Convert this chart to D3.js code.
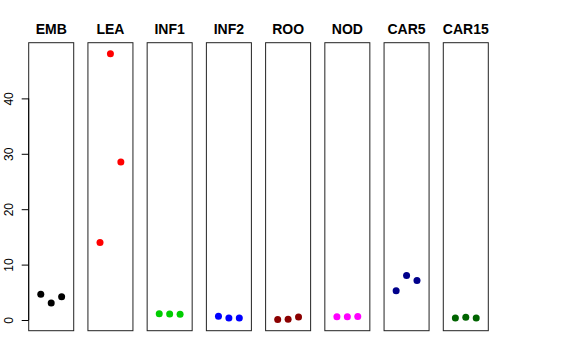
<!DOCTYPE html>
<html><head><meta charset="utf-8">
<script src="https://cdn.jsdelivr.net/npm/d3@7"></script>
<style>body{margin:0;background:#fff}</style>
</head><body>
<svg id="c" width="576" height="360"></svg>
<script>
const categories = ["EMB","LEA","INF1","INF2","ROO","NOD","CAR5","CAR15"];
const colors = ["#000000","#FF0000","#00CD00","#0000FF","#8B0000","#FF00FF","#00008B","#006400"];
const EMB = [4.65, 3.05, 4.2];
const LEA = [14.0, 48.05, 28.5];
const INF1 = [1.12, 1.08, 1.05];
const INF2 = [0.68, 0.38, 0.38];
const ROO = [0.08, 0.14, 0.55];
const NOD = [0.6, 0.6, 0.65];
const CAR5 = [5.3, 8.05, 7.15];
const CAR15 = [0.38, 0.52, 0.38];
const series = [EMB, LEA, INF1, INF2, ROO, NOD, CAR5, CAR15];
const yTicks = [0, 10, 20, 30, 40];
const reps = [1, 2, 3];

const svg = d3.select("#c");
const panelX = d3.scaleBand().domain(categories).range([28.7, 488.3]).paddingInner(0.24).paddingOuter(0);
const y = d3.scaleLinear().domain([-1.93, 50.05]).range([330.7, 42.7]);
const xIn = d3.scaleLinear().domain([-0.16, 4.16]).range([0, panelX.bandwidth()]);

categories.forEach((cat, i) => {
  const g = svg.append("g").attr("transform", `translate(${panelX(cat)},0)`);
  g.append("rect").attr("x", 0).attr("y", y(50.05)).attr("width", panelX.bandwidth())
    .attr("height", y(-1.93) - y(50.05)).attr("fill", "none").attr("stroke", "#222").attr("stroke-width", 1);
  g.selectAll("circle").data(series[i]).join("circle")
    .attr("cx", (d, j) => xIn(reps[j])).attr("cy", d => y(d)).attr("r", 3.5)
    .attr("fill", colors[i]);
  svg.append("text").attr("x", panelX(cat) + panelX.bandwidth() / 2).attr("y", 34.3)
    .attr("text-anchor", "middle").attr("font-family", "Liberation Sans, Arial, sans-serif")
    .attr("font-weight", "bold").attr("font-size", 14).text(cat);
});

const axis = d3.axisLeft(y).tickValues(yTicks).tickSize(7).tickPadding(0).tickFormat(d3.format("d"));
const ag = svg.append("g").attr("transform", `translate(${panelX(categories[0])},0)`).call(axis);
ag.select(".domain").attr("d", `M0,${y(0)}V${y(40)}`).attr("stroke", "#000");
ag.selectAll(".tick line").attr("stroke", "#000");
ag.selectAll(".tick text").remove();
ag.selectAll(".tick").append("text")
  .attr("transform", "translate(-16,0) rotate(-90)")
  .attr("text-anchor", "middle").attr("fill", "#000")
  .attr("font-family", "Liberation Sans, Arial, sans-serif").attr("font-size", 12)
  .text(d => d);
</script>
</body></html>
